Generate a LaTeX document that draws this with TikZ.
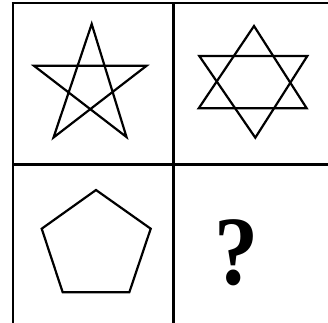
\documentclass[tikz,border=0pt]{standalone}
\usepackage{fontspec}
\setmainfont{Liberation Serif}
\begin{document}
\begin{tikzpicture}[x=1pt,y=-1pt,
  gridline/.style={line width=2.6pt,black},
  figline/.style={line width=2.2pt,black,line join=miter}]
\useasboundingbox (0,0) rectangle (328,322);
% grid
\coordinate (tl) at (13,3);
\coordinate (tr) at (340,3);
\coordinate (ml) at (13,164.5);
\coordinate (mr) at (340,164.5);
\coordinate (bl) at (13,330);
\coordinate (tm) at (173.5,3);
\coordinate (bm) at (173.5,330);
\draw[gridline] ([xshift=-1.3pt]tl) -- (tr);
\draw[gridline] (tl) -- (bl);
\draw[gridline] (ml) -- (mr);
\draw[gridline] (tm) -- (bm);
% pentagram
\coordinate (p1) at (91.7,24);
\coordinate (p2) at (126.5,137);
\coordinate (p3) at (34,65.8);
\coordinate (p4) at (146.5,65.8);
\coordinate (p5) at (53.5,137.5);
\draw[figline] (p1) -- (p2) -- (p3) -- (p4) -- (p5) -- cycle;
% hexagram
\coordinate (h1) at (254,26);
\coordinate (h2) at (198.7,108.3);
\coordinate (h3) at (306.7,108.3);
\coordinate (h4) at (255.3,137.7);
\coordinate (h5) at (199.3,56);
\coordinate (h6) at (307.3,56);
\draw[figline] (h1) -- (h2) -- (h3) -- cycle;
\draw[figline] (h4) -- (h5) -- (h6) -- cycle;
% pentagon
\coordinate (q1) at (96,190);
\coordinate (q2) at (150.7,228.7);
\coordinate (q3) at (129.3,292.3);
\coordinate (q4) at (62.7,292.3);
\coordinate (q5) at (41.7,228.7);
\draw[figline] (q1) -- (q2) -- (q3) -- (q4) -- (q5) -- cycle;
% question mark
\node[inner sep=0pt,anchor=center,font=\fontsize{98}{98}\selectfont\bfseries,xscale=0.9] (qm) at (237,252.5) {?};
\end{tikzpicture}
\end{document}
